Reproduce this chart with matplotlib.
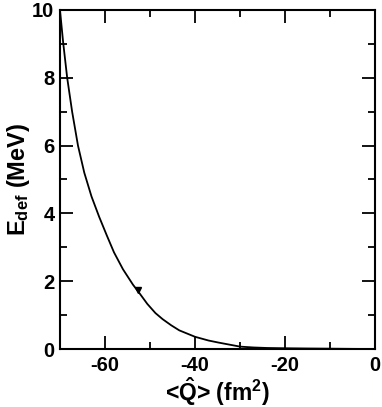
import matplotlib
matplotlib.use("Agg")
import matplotlib.pyplot as plt
from matplotlib.ticker import MultipleLocator

Q = [-70, -69.3, -68.4, -67.3, -66.0, -64.6, -63.0, -61.3, -59.6, -58.0, -56.0, -53.8, -52.2,
     -50.6, -48.8, -47.2, -45.3, -43.5, -40.0, -37.0, -34.8, -32, -30, -27, -24, -20, -15,
     -10, -5, 0]
E = [10, 9.05, 8.0, 7.0, 6.0, 5.2, 4.5, 3.9, 3.35, 2.85, 2.35, 1.9, 1.62,
     1.33, 1.06, 0.88, 0.7, 0.55, 0.36, 0.25, 0.19, 0.12, 0.07, 0.045, 0.03, 0.022, 0.015,
     0.01, 0.004, 0.0]
marker_Q = [-52.6]
marker_E = [1.74]

plt.rcParams['font.family'] = ['Liberation Sans', 'DejaVu Sans']
plt.rcParams['font.weight'] = 'bold'
plt.rcParams['axes.unicode_minus'] = False
plt.rcParams['mathtext.fontset'] = 'custom'
plt.rcParams['mathtext.rm'] = 'Liberation Sans:bold'
plt.rcParams['mathtext.it'] = 'Liberation Sans:bold'
plt.rcParams['mathtext.bf'] = 'Liberation Sans:bold'

fig = plt.figure(figsize=(3.82, 4.07), dpi=100)
ax = fig.add_axes([0.157, 0.1425, 0.825, 0.833])
ax.plot(Q, E, color='black', lw=1.3, solid_joinstyle='round')
ax.plot(marker_Q, marker_E, marker='v', color='black', ms=5, ls='none')
ax.set_xlim(-70, 0)
ax.set_ylim(0, 10)
ax.xaxis.set_major_locator(MultipleLocator(20))
ax.xaxis.set_minor_locator(MultipleLocator(10))
ax.yaxis.set_major_locator(MultipleLocator(2))
ax.yaxis.set_minor_locator(MultipleLocator(1))
ax.tick_params(which='both', direction='in', top=True, right=True, width=1.3, labelsize=14.5)
ax.tick_params(axis='x', pad=5)
ax.tick_params(axis='y', pad=4)
ax.tick_params(which='major', length=9.5)
ax.tick_params(which='minor', length=5)
for s in ax.spines.values():
    s.set_linewidth(1.5)
for lab in ax.get_xticklabels() + ax.get_yticklabels():
    lab.set_fontweight('bold')
ax.set_xlabel(r'<$\hat{Q}$> (fm$^{2}$)', fontsize=16.5, fontweight='bold', labelpad=0)
ax.set_ylabel(r'E$_{\rm def}$ (MeV)', fontsize=17, fontweight='bold', labelpad=0)
fig.savefig('out.png', dpi=100)
